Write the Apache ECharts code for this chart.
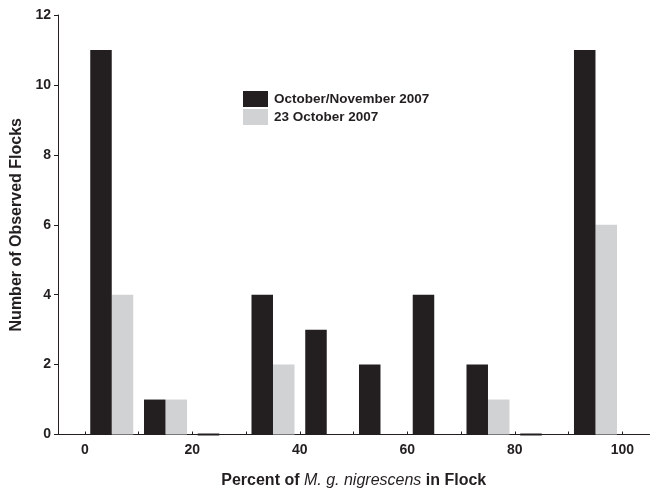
<!DOCTYPE html>
<html>
<head>
<meta charset="utf-8">
<script src="https://cdn.jsdelivr.net/npm/echarts@6/dist/echarts.min.js"></script>
<style>html,body{margin:0;padding:0;background:#fff}#c{width:650px;height:489px}</style>
</head>
<body>
<div id="c"></div>
<script>
// Bin starts (percent) and counts per series
var binStarts = [0, 10, 20, 30, 40, 50, 60, 70, 80, 90];
var octNov2007 = [11, 1, 0, 4, 3, 2, 4, 2, 0, 11];
var oct23_2007 = [4, 1, 0, 2, 0, 0, 0, 1, 0, 6];
var seriesNames = ['October/November 2007', '23 October 2007'];
var xTickValues = [0, 10, 20, 30, 40, 50, 60, 70, 80, 90, 100];
var xLabelValues = [0, 20, 40, 60, 80, 100];
var yTicks = [0, 2, 4, 6, 8, 10, 12];

var DARK = '#231f20';
var GRAY = '#d1d2d4';
var FONT = 'Liberation Sans, Arial, Helvetica, sans-serif';

function makeData(vals, offStart, offEnd) {
  return binStarts.map(function (b, i) { return [b + offStart, b + offEnd, vals[i]]; });
}

function makeRender(color, strokeZero) {
  return function (params, api) {
    var x0 = api.value(0), x1 = api.value(1), v = api.value(2);
    var p0 = api.coord([x0, v]);
    var p1 = api.coord([x1, 0]);
    var style = { fill: color };
    if (strokeZero && v === 0) { style.stroke = color; style.lineWidth = 2; }
    return {
      type: 'rect',
      shape: { x: p0[0], y: p0[1], width: p1[0] - p0[0], height: p1[1] - p0[1] },
      style: style
    };
  };
}

var chart = echarts.init(document.getElementById('c'), null, { renderer: 'canvas' });
chart.setOption({
  animation: false,
  backgroundColor: '#fff',
  textStyle: { fontFamily: FONT },
  grid: { left: 58, top: 15, width: 591.5, bottom: 54.5, containLabel: false, outerBoundsMode: 'none' },
  legend: {
    orient: 'vertical', left: 238, top: 86,
    itemWidth: 25, itemHeight: 16, itemGap: 2, icon: 'rect',
    textStyle: { fontSize: 13.5, fontWeight: 'bold', color: DARK, fontFamily: FONT, padding: [0, 0, 0, 1] },
    data: seriesNames
  },
  xAxis: {
    type: 'value', min: -5, max: 105.05,
    splitLine: { show: false },
    axisLine: { show: true, onZero: false, lineStyle: { color: DARK, width: 1 } },
    axisTick: { show: true, inside: true, length: 3, customValues: xTickValues, lineStyle: { color: DARK } },
    axisLabel: { customValues: xLabelValues, margin: 9, fontSize: 14, fontWeight: 'bold', color: DARK, fontFamily: FONT },
    name: '{b|Percent of }{i|M. g. nigrescens}{b| in Flock}',
    nameLocation: 'middle', nameGap: 38,
    nameTextStyle: {
      rich: {
        b: { fontSize: 16, fontWeight: 'bold', color: DARK, fontFamily: FONT },
        i: { fontSize: 16, fontStyle: 'italic', fontWeight: 'normal', color: DARK, fontFamily: FONT }
      }
    }
  },
  yAxis: {
    type: 'value', min: 0, max: 12, interval: 2,
    splitLine: { show: false },
    axisLine: { show: true, onZero: false, lineStyle: { color: DARK, width: 1 } },
    axisTick: { show: true, inside: false, length: 4, lineStyle: { color: DARK } },
    axisLabel: { margin: 7, fontSize: 14, fontWeight: 'bold', color: DARK, fontFamily: FONT,
      formatter: function (v) { return yTicks.indexOf(v) >= 0 ? String(v) : ''; } },
    name: 'Number of Observed Flocks',
    nameLocation: 'middle', nameGap: 29, nameRotate: 90,
    nameTextStyle: { fontSize: 16, fontWeight: 'bold', color: DARK, fontFamily: FONT }
  },
  series: [
    {
      name: seriesNames[0], type: 'custom', renderItem: makeRender(DARK, true),
      itemStyle: { color: DARK }, encode: { x: [0, 1], y: 2 },
      data: makeData(octNov2007, 1, 5), z: 3
    },
    {
      name: seriesNames[1], type: 'custom', renderItem: makeRender(GRAY, false),
      itemStyle: { color: GRAY }, encode: { x: [0, 1], y: 2 },
      data: makeData(oct23_2007, 5, 9), z: 2
    }
  ]
});
</script>
</body>
</html>
